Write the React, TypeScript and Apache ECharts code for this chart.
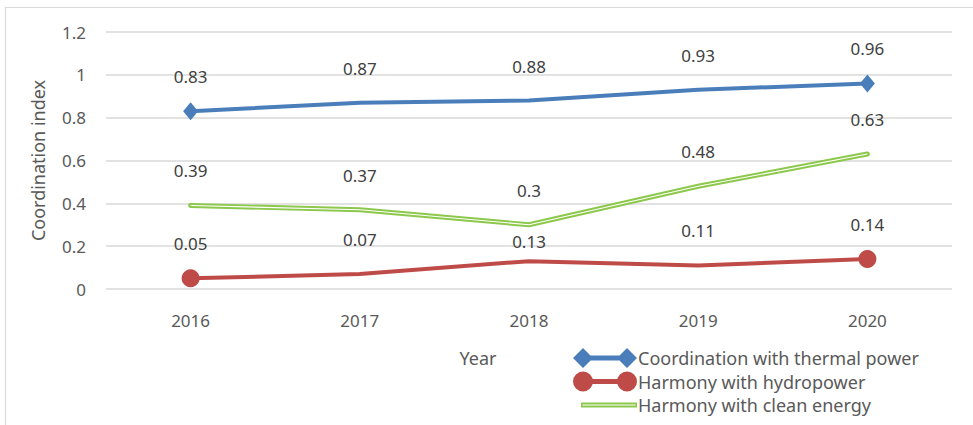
import React, { useEffect, useRef } from "react";
import * as echarts from "echarts";

const years = ["2016", "2017", "2018", "2019", "2020"];
const thermal = [0.83, 0.87, 0.88, 0.93, 0.96];
const hydro = [0.05, 0.07, 0.13, 0.11, 0.14];
const clean = [0.39, 0.37, 0.3, 0.48, 0.63];
const seriesNames = [
  "Coordination with thermal power",
  "Harmony with hydropower",
  "Harmony with clean energy",
];

const BLUE = "#4A7EBB";
const RED = "#BE4B48";
const GREEN = "#8CC84B";
const TXT = "#404040";
const AXIS_TXT = "#595959";
const FONT = "Noto Sans";

// label lift (px above point); Excel nudged one label to avoid the green line
const LIFT = 34.5;
const hydroLiftOverride: Record<number, number> = { 2: 20 };

const diamondIcon =
  "path://M0,10 L10,0 L20,10 L10,20 Z M10,7.5 H54 V12.5 H10 Z M44,10 L54,0 L64,10 L54,20 Z";
const circleIcon =
  "path://M0,10 A10,10 0 1,1 20,10 A10,10 0 1,1 0,10 Z M10,7.5 H54 V12.5 H10 Z M44,10 A10,10 0 1,1 64,10 A10,10 0 1,1 44,10 Z";
const doubleLineIcon =
  "path://M0,0 M64,20 M8,7.6 H64 V12.4 H8 Z M9.5,9.5 V10.5 H62.5 V9.5 Z";

function endSymbolSize(size: number | number[], n: number) {
  return (_v: any, p: any) =>
    p.dataIndex === 0 || p.dataIndex === n - 1 ? size : 0;
}

export default function App() {
  const ref = useRef<HTMLDivElement>(null);
  useEffect(() => {
    if (!ref.current) return;
    const chart = echarts.init(ref.current, undefined, { renderer: "svg" });
    const labelBase = {
      show: true,
      position: "inside",
      color: TXT,
      fontFamily: FONT,
      fontSize: 17,
      offset: [0, -LIFT],
    };
    const option: any = {
      animation: false,
      backgroundColor: "#ffffff",
      textStyle: { fontFamily: FONT },
      graphic: [
        {
          type: "rect",
          shape: { x: 5.5, y: 7.5, width: 1200, height: 600 },
          style: { fill: "none", stroke: "#d9d9d9", lineWidth: 1.2 },
          silent: true,
          z: -10,
        },
      ],
      grid: { left: 106, right: 21, top: 32, bottom: 136 },
      legend: {
        orient: "vertical",
        left: 568,
        top: 343,
        itemWidth: 64,
        itemHeight: 20,
        itemGap: 3.5,
        textStyle: { color: AXIS_TXT, fontFamily: FONT, fontSize: 18, padding: [0, 0, 0, -4] },
        itemStyle: { borderWidth: 0 },
        data: [
          { name: seriesNames[0], icon: diamondIcon },
          { name: seriesNames[1], icon: circleIcon },
          { name: seriesNames[2], icon: doubleLineIcon },
        ],
      },
      xAxis: {
        type: "category",
        data: years,
        boundaryGap: true,
        axisLine: { show: false },
        axisTick: { show: false },
        axisLabel: { color: AXIS_TXT, fontFamily: FONT, fontSize: 17, margin: 23 },
        name: "Year",
        nameLocation: "middle",
        nameGap: 60,
        nameTextStyle: { color: AXIS_TXT, fontFamily: FONT, fontSize: 18, padding: [0, 102, 0, 0] },
      },
      yAxis: {
        type: "value",
        min: 0,
        max: 1.2,
        interval: 0.2,
        axisLine: { show: false },
        axisTick: { show: false },
        splitLine: { lineStyle: { color: "#d9d9d9", width: 1.5 } },
        axisLabel: {
          color: AXIS_TXT,
          fontFamily: FONT,
          fontSize: 17,
          margin: 20,
          formatter: (v: number) => String(Math.round(v * 10) / 10),
        },
        name: "Coordination index",
        nameLocation: "middle",
        nameGap: 59,
        nameTextStyle: { color: AXIS_TXT, fontFamily: FONT, fontSize: 18 },
      },
      series: [
        {
          name: seriesNames[2],
          type: "line",
          data: clean,
          color: GREEN,
          symbol: "circle",
          symbolSize: 0,
          showSymbol: true,
          lineStyle: { width: 5, color: GREEN, cap: "round", join: "round" },
          itemStyle: { color: GREEN },
          label: labelBase,
          z: 2,
        },
        {
          name: "clean-inner",
          type: "line",
          data: clean,
          symbol: "none",
          silent: true,
          lineStyle: { width: 1.1, color: "#ffffff" },
          z: 3,
        },
        {
          name: seriesNames[1],
          type: "line",
          data: hydro.map((v, i) =>
            hydroLiftOverride[i] !== undefined
              ? { value: v, label: { offset: [0, -hydroLiftOverride[i]] } }
              : v
          ),
          color: RED,
          symbol: "circle",
          symbolSize: endSymbolSize(18, hydro.length),
          showSymbol: true,
          lineStyle: { width: 4, color: RED },
          itemStyle: { color: RED, borderWidth: 0 },
          label: labelBase,
          z: 4,
        },
        {
          name: seriesNames[0],
          type: "line",
          data: thermal,
          color: BLUE,
          symbol: "diamond",
          symbolSize: endSymbolSize([15, 18], thermal.length),
          showSymbol: true,
          lineStyle: { width: 4, color: BLUE },
          itemStyle: { color: BLUE, borderWidth: 0 },
          label: labelBase,
          z: 5,
        },
      ],
    };
    chart.setOption(option);
    return () => chart.dispose();
  }, []);
  return (
    <div
      ref={ref}
      style={{ position: "fixed", left: 0, top: 0, width: 973, height: 425 }}
    />
  );
}
